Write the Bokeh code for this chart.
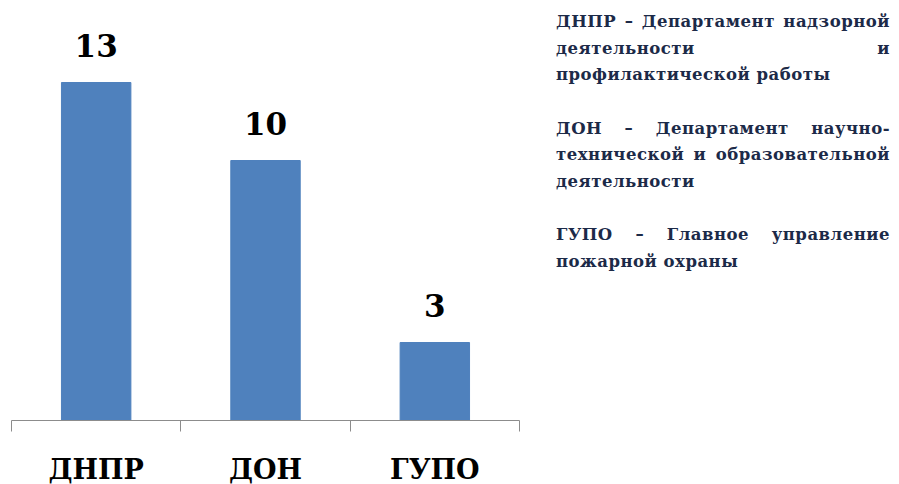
from bokeh.plotting import figure
from bokeh.models import ColumnDataSource, Range1d, FixedTicker, Div
from bokeh.layouts import row
from bokeh.core.properties import value
from bokeh.embed import file_html
from bokeh.resources import INLINE

categories = ["ДНПР", "ДОН", "ГУПО"]
counts = [13, 10, 3]
notes = [
    ["ДНПР – Департамент надзорной", "деятельности и", "профилактической работы"],
    ["ДОН – Департамент научно-", "технической и образовательной", "деятельности"],
    ["ГУПО – Главное управление", "пожарной охраны"],
]

FONT = "DejaVu Serif"

n = len(categories)
centers = [i + 0.5 for i in range(n)]
source = ColumnDataSource(dict(x=centers, top=counts, label=[str(c) for c in counts]))

p = figure(frame_width=508, frame_height=412, x_range=Range1d(0, n), y_range=Range1d(0, 412 / 26),
           output_backend="svg", toolbar_location=None,
           min_border_left=11, min_border_right=32, min_border_top=8, min_border_bottom=0)
p.outline_line_color = None
p.xgrid.visible = False
p.ygrid.visible = False
p.yaxis.visible = False
p.background_fill_color = "white"

p.vbar(x="x", top="top", width=0.41, source=source, color="#4F81BD")
p.text(x="x", y="top", text="label", source=source, y_offset=-26,
       text_align="center", text_baseline="bottom",
       text_font=value(FONT), text_font_style="bold",
       text_font_size="31px", text_color="black")

ax = p.xaxis[0]
ax.ticker = FixedTicker(ticks=centers, minor_ticks=list(range(n + 1)))
ax.major_label_overrides = {c: lab for c, lab in zip(centers, categories)}
ax.major_tick_line_color = None
ax.major_tick_out = 0
ax.major_tick_in = 0
ax.minor_tick_line_color = "#8C8C8C"
ax.minor_tick_out = 11
ax.minor_tick_in = 0
ax.axis_line_color = "#8C8C8C"
ax.major_label_standoff = 22
ax.major_label_text_font = FONT
ax.major_label_text_font_style = "bold"
ax.major_label_text_font_size = "27px"
ax.major_label_text_color = "black"

line_style = (f"font-family:'{FONT}';font-weight:bold;font-size:16.5px;white-space:nowrap;"
              "line-height:26.5px;color:#1C2A48;letter-spacing:0.5px;width:334px;")
paras = []
for lines in notes:
    parts = []
    for i, ln in enumerate(lines):
        last = i == len(lines) - 1
        align = "text-align:left;text-align-last:left;" if last else "text-align:justify;text-align-last:justify;"
        parts.append(f"<div style=\"{line_style}{align}\">{ln}</div>")
    paras.append("".join(parts))
html = "<div style='padding-top:4px;width:334px'>" + "<div style='height:27px'></div>".join(paras) + "</div>"

div = Div(text=html, width=334)
layout = row(p, div)

open("out.html", "w").write(file_html(layout, INLINE))
